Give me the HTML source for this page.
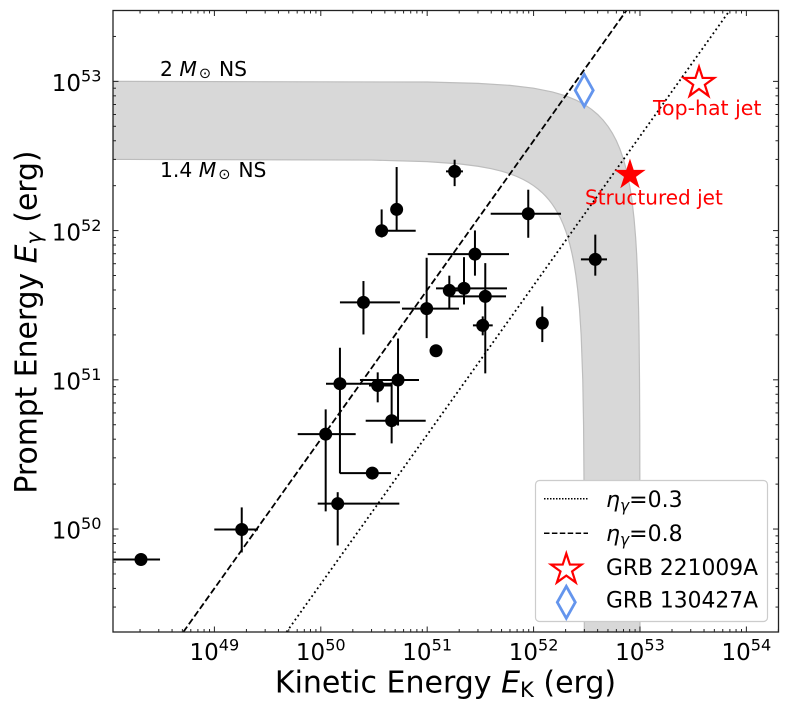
<!DOCTYPE html>
<html>
<head>
<meta charset="utf-8">
<title>Prompt vs Kinetic Energy</title>
<style>
html,body{margin:0;padding:0;background:#fff;width:789px;height:717px;overflow:hidden}
svg{display:block}
text{font-family:"DejaVu Sans","Liberation Sans",sans-serif;fill:#000}
</style>
</head>
<body>
<svg id="chart" xmlns="http://www.w3.org/2000/svg" width="789" height="717" viewBox="0 0 789 717">
  <defs><clipPath id="plot-clip"><rect x="113" y="10.5" width="665.5" height="621.5"/></clipPath></defs>
  <g id="plot" clip-path="url(#plot-clip)"></g>
  <rect x="113" y="10.5" width="665.5" height="621.5" fill="none" stroke="#222" stroke-width="1.3"/>
  <g id="ticks"></g>
  <text x="160" y="76" font-size="20.3">2 <tspan font-style="italic">M</tspan><tspan font-size="14.5" dx="2" dy="2">⊙</tspan><tspan dx="8" dy="-2">NS</tspan></text>
  <text x="160" y="177" font-size="20.3">1.4 <tspan font-style="italic">M</tspan><tspan font-size="14.5" dx="2" dy="2">⊙</tspan><tspan dx="8" dy="-2">NS</tspan></text>
  <text x="653" y="115" font-size="20.5" style="fill:#f00">Top-hat jet</text>
  <text x="585" y="204.5" font-size="20" style="fill:#f00">Structured jet</text>
  <text x="445.5" y="692.5" font-size="30" text-anchor="middle">Kinetic Energy <tspan font-style="italic">E</tspan><tspan font-size="21" dy="4.5">K</tspan><tspan dy="-4.5"> (erg)</tspan></text>
  <text transform="translate(36.3,322) rotate(-90)" font-size="29.8" text-anchor="middle">Prompt Energy <tspan font-style="italic">E</tspan><tspan font-size="21" font-style="italic" dy="4.5">γ</tspan><tspan dy="-4.5"> (erg)</tspan></text>
  <g>
    <rect x="535.5" y="480.5" width="232" height="141" rx="4" fill="#fff" stroke="#ccc" stroke-width="1.2"/>
    <line x1="544" x2="588" y1="498.7" y2="498.7" stroke="#000" stroke-width="1.5" stroke-dasharray="1.5 1.5"/>
    <line x1="544" x2="588" y1="533.3" y2="533.3" stroke="#000" stroke-width="1.5" stroke-dasharray="5.5 2.4"/>
    <g id="legend-markers"></g>
    <text x="606" y="507" font-size="22"><tspan font-style="italic">η</tspan><tspan font-size="15.5" font-style="italic" dy="4">γ</tspan><tspan dy="-4">=0.3</tspan></text>
    <text x="606" y="541" font-size="22"><tspan font-style="italic">η</tspan><tspan font-size="15.5" font-style="italic" dy="4">γ</tspan><tspan dy="-4">=0.8</tspan></text>
    <text x="606" y="575" font-size="21.8">GRB 221009A</text>
    <text x="606" y="607.5" font-size="21.8">GRB 130427A</text>
  </g>
</svg>
<script>
// Sample values: log10 of energy in erg
const ekLog   = [48.310,49.257,50.046,50.159,50.484,50.180,50.535,50.726,50.666,50.401,50.995,51.083,50.572,50.713,51.258,51.950,51.449,51.208,51.346,51.546,51.522,52.082,52.580];
const ekLoLog = [48.050,48.999,49.783,49.971,50.180,50.049,50.453,50.368,50.422,50.180,50.763,51.083,50.572,50.713,51.177,51.597,51.005,51.158,51.083,51.214,51.430,52.082,52.445];
const ekHiLog = [48.489,49.410,50.328,50.738,50.660,50.669,50.669,50.923,50.986,50.744,51.299,51.083,50.892,50.713,51.336,52.258,51.769,51.289,51.750,51.741,51.616,52.082,52.690];
const egLog   = [49.796,49.997,50.636,50.170,50.375,50.974,50.962,50.999,50.726,51.519,51.477,51.195,51.999,52.142,52.397,52.113,51.842,51.599,51.613,51.559,51.365,51.380,51.807];
const egLoLog = [49.796,49.843,50.118,49.890,50.375,50.373,50.849,50.694,50.574,51.304,51.279,51.195,51.954,52.001,52.298,51.952,51.698,51.477,51.505,51.043,51.298,51.253,51.698];
const egHiLog = [49.796,50.145,50.802,50.247,50.375,51.215,51.050,51.277,50.983,51.662,51.818,51.195,52.142,52.426,52.475,52.274,52.001,51.698,51.822,51.782,51.425,51.492,51.973];

// Efficiency reference lines
const etaValues = [0.3, 0.8];

// Energy budget band edges, in units of 1e51 erg
const bandUpperEk = [0.00112,1,3,6,10,15,20,25,30,35,40,45,50,55,60,65,70,75,80,84,88,91,93,95,96,97,98,99,99.5,99.9,99.979];
const bandUpperEg = [99.999,99,97,94,90,85,80,75,70,65,60,55,50,45,40,35,30,25,20,16,12,9,7,5,4,3,2,1,0.5,0.1,0.0205];
const bandLowerEk = [0.00112,0.3,1,2,3,4,5,6,7,8,9,10,11,12,13,14,15,16,17,18,19,20,21,22,23,24,25,26,27,28,29,29.5,29.8,29.95,29.979];
const bandLowerEg = [29.999,29.7,29,28,27,26,25,24,23,22,21,20,19,18,17,16,15,14,13,12,11,10,9,8,7,6,5,4,3,2,1,0.5,0.2,0.05,0.0205];

// Highlighted bursts: log10 energies
const grb221009aTopHat = [53.555, 52.990];
const grb221009aStructured = [52.906, 52.373];
const grb130427a = [52.476, 52.940];

// Tick labels (decade exponents)
const xTickExponents = [49,50,51,52,53,54];
const yTickExponents = [50,51,52,53];

const xDomain = [48.047, 54.302];
const yDomain = [49.31, 53.475];
const xRange = [113, 778.5];
const yRange = [632, 10.5];
function xScale(v){return xRange[0]+(v-xDomain[0])/(xDomain[1]-xDomain[0])*(xRange[1]-xRange[0]);}
function yScale(v){return yRange[0]+(v-yDomain[0])/(yDomain[1]-yDomain[0])*(yRange[1]-yRange[0]);}

const NS = 'http://www.w3.org/2000/svg';
function mk(tag, attrs, parent){
  const el = document.createElementNS(NS, tag);
  for (const k in attrs) el.setAttribute(k, attrs[k]);
  parent.appendChild(el);
  return el;
}
function starPath(cx, cy, R){
  const r = R*0.381966;
  let d = '';
  for (let i=0;i<10;i++){
    const a = -Math.PI/2 + i*Math.PI/5;
    const q = i%2 ? r : R;
    d += (i?'L':'M') + (cx+q*Math.cos(a)).toFixed(2) + ' ' + (cy+q*Math.sin(a)).toFixed(2);
  }
  return d+'Z';
}
function diamondPath(cx, cy, w, h){
  return 'M'+cx+' '+(cy-h)+'L'+(cx+w)+' '+cy+'L'+cx+' '+(cy+h)+'L'+(cx-w)+' '+cy+'Z';
}

const plot = document.getElementById('plot');
const ticks = document.getElementById('ticks');
const legendMarkers = document.getElementById('legend-markers');

// Band
let bandD = '';
bandUpperEk.forEach(function(v,i){
  bandD += (i?'L':'M') + xScale(51+Math.log10(v)).toFixed(2) + ' ' + yScale(51+Math.log10(bandUpperEg[i])).toFixed(2);
});
for (let i=bandLowerEk.length-1;i>=0;i--){
  bandD += 'L' + xScale(51+Math.log10(bandLowerEk[i])).toFixed(2) + ' ' + yScale(51+Math.log10(bandLowerEg[i])).toFixed(2);
}
bandD += 'Z';
const band = mk('path',{d:bandD,fill:'#d8d8d8',stroke:'#bdbdbd','stroke-width':1.2},plot);



// Efficiency lines: E_gamma = eta/(1-eta) * E_K, trimmed to the axes
etaValues.forEach(function(eta){
  const off = Math.log10(eta/(1-eta));
  const x0 = Math.max(xDomain[0], yDomain[0]-off);
  const x1 = Math.min(xDomain[1], yDomain[1]-off);
  const line = mk('line',{x1:xScale(x0),y1:yScale(x0+off),x2:xScale(x1),y2:yScale(x1+off),stroke:'#000','stroke-width':1.8,'stroke-dasharray':eta<0.5?'1.8 3':'6.6 2.9'},plot);
  
  
});

// Error bars and points
ekLog.forEach(function(v,i){
  const g = mk('g',{},plot);
  
  
  const cx = xScale(v), cy = yScale(egLog[i]);
  if (ekHiLog[i] !== ekLoLog[i]) {
    const h = mk('line',{x1:xScale(ekLoLog[i]),y1:cy,x2:xScale(ekHiLog[i]),y2:cy,stroke:'#000','stroke-width':2},g);
    
    
  }
  if (egHiLog[i] !== egLoLog[i]) {
    const e = mk('line',{x1:cx,y1:yScale(egLoLog[i]),x2:cx,y2:yScale(egHiLog[i]),stroke:'#000','stroke-width':2},g);
    
    
  }
  const c = mk('circle',{cx:cx,cy:cy,r:6.5,fill:'#000'},g);
  
  
});

// Highlight markers
const m1 = mk('path',{d:diamondPath(xScale(grb130427a[0]),yScale(grb130427a[1]),9,16),fill:'#fff','fill-opacity':0,stroke:'#6495ed','stroke-width':2.8,'stroke-linejoin':'miter'},plot);


const m2 = mk('path',{d:starPath(xScale(grb221009aTopHat[0]),yScale(grb221009aTopHat[1]),16),fill:'none',stroke:'#f00','stroke-width':2.2},plot);


const m3 = mk('path',{d:starPath(xScale(grb221009aStructured[0]),yScale(grb221009aStructured[1]),16.5),fill:'#f00'},plot);



// Legend markers
const l1 = mk('path',{d:starPath(566.3,569.5,16),fill:'none',stroke:'#f00','stroke-width':2.2},legendMarkers);


const l2 = mk('path',{d:diamondPath(566.3,602.3,9,16),fill:'none',stroke:'#6495ed','stroke-width':2.8},legendMarkers);



// Ticks
function tick(x1,y1,x2,y2,w){
  const t = mk('line',{x1:x1,y1:y1,x2:x2,y2:y2,stroke:'#222','stroke-width':w},ticks);
  
  
}
for (let d=Math.floor(xDomain[0]); d<=Math.ceil(xDomain[1]); d++){
  for (let m=1;m<=9;m++){
    const x = xScale(d+Math.log10(m));
    if (x<xRange[0] || x>xRange[1]) continue;
    const L = m===1?5.5:3;
    tick(x,yRange[0],x,yRange[0]-L,1);
    tick(x,yRange[1],x,yRange[1]+L,1);
  }
}
for (let d=Math.floor(yDomain[0]); d<=Math.ceil(yDomain[1]); d++){
  for (let m=1;m<=9;m++){
    const y = yScale(d+Math.log10(m));
    if (y>yRange[0] || y<yRange[1]) continue;
    const L = m===1?5.5:3;
    tick(xRange[0],y,xRange[0]+L,y,1);
    tick(xRange[1],y,xRange[1]-L,y,1);
  }
}

// Tick labels
xTickExponents.forEach(function(e){
  const t = mk('text',{x:xScale(e),y:660,'font-size':23,'text-anchor':'middle'},ticks);
  
  
  t.textContent = '10';
  const s = mk('tspan',{'font-size':16.1,dy:-9.5},t);
  s.textContent = String(e);
});
yTickExponents.forEach(function(e){
  const t = mk('text',{x:101.5,y:yScale(e)+9.7,'font-size':23,'text-anchor':'end'},ticks);
  
  
  t.textContent = '10';
  const s = mk('tspan',{'font-size':16.1,dy:-9.5},t);
  s.textContent = String(e);
});
</script>
</body>
</html>
